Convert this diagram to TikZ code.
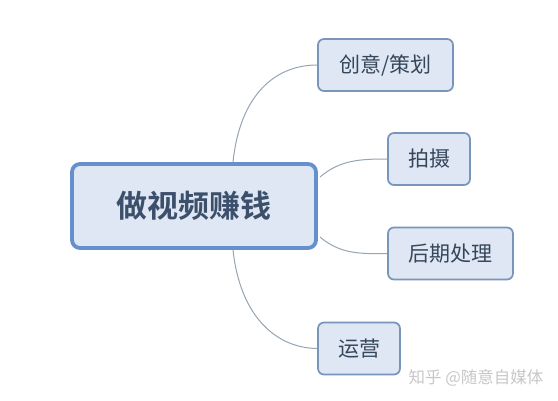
\documentclass[tikz,border=0pt]{standalone}
\usepackage{fontspec}
\newfontfamily\cjk{Noto Sans CJK SC}[BoldFont={Noto Sans CJK SC Bold}]
\definecolor{boxfill}{HTML}{DEE7F3}
\definecolor{mainborder}{HTML}{6590CC}
\definecolor{childborder}{HTML}{7896BA}
\definecolor{txt}{HTML}{36465A}
\definecolor{mainTxt}{HTML}{3C506C}
\definecolor{link}{HTML}{97A4B2}
\definecolor{wm}{HTML}{C8C8C8}
\begin{document}
\begin{tikzpicture}[x=1pt,y=-1pt,
  mainbox/.style={draw=mainborder,fill=boxfill,line width=3.8pt,rounded corners=8pt,minimum width=244pt,minimum height=84pt,inner sep=0pt,font=\cjk\bfseries\fontsize{31}{34}\selectfont,text=mainTxt},
  childbox/.style={draw=childborder,fill=boxfill,line width=1.7pt,rounded corners=6pt,minimum height=52pt,inner sep=0pt,font=\cjk\fontsize{21}{24}\selectfont,text=txt},
  linkline/.style={draw=link,line width=1pt}]
\useasboundingbox (0,0) rectangle (558,400);
\fill[white] (0,0) rectangle (558,400);
\node[mainbox] (main) at (194,206) {做视频赚钱};
\node[childbox,minimum width=135pt] (c1) at (385.5,65) {创意/策划};
\node[childbox,minimum width=82pt] (c2) at (429,159) {拍摄};
\node[childbox,minimum width=125pt] (c3) at (450.5,253.5) {后期处理};
\node[childbox,minimum width=82pt] (c4) at (359,348.5) {运营};
\coordinate (m1) at (233,162);
\coordinate (m2) at (320,177);
\coordinate (m3) at (320,237);
\coordinate (m4) at (233,250);
\draw[linkline] (m1) .. controls (240,95) and (275,65) .. (c1.west);
\draw[linkline] (m2) .. controls (340,160) and (360,159) .. (c2.west);
\draw[linkline] (m3) .. controls (340,254) and (360,254) .. (c3.west);
\draw[linkline] (m4) .. controls (240,315) and (275,348) .. (c4.west);
\node[text=wm,font=\cjk\fontsize{16.5}{19}\selectfont] (wmk) at (476,378) {知乎 @随意自媒体};
\end{tikzpicture}
\end{document}
